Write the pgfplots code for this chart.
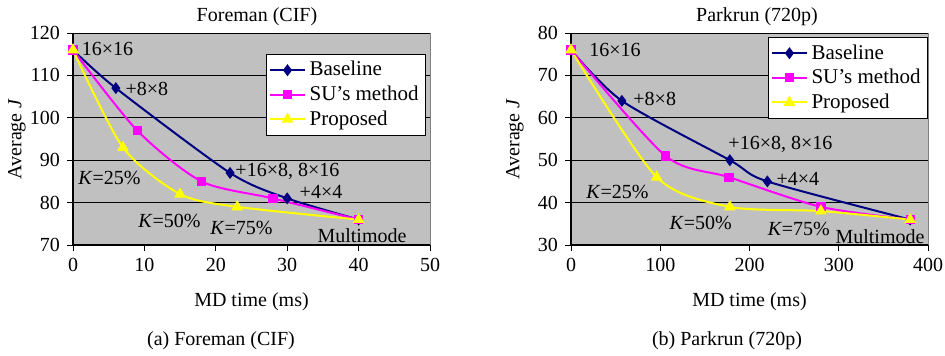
\documentclass[border=0pt]{standalone}
\usepackage{pgfplots}
\pgfplotsset{compat=1.18}
\usepackage{fontspec}
\setmainfont{Liberation Serif}
\definecolor{silver}{RGB}{192,192,192}
\definecolor{navyb}{RGB}{0,0,128}
\definecolor{mag}{RGB}{255,0,255}
\definecolor{yel}{RGB}{255,255,0}
\pgfplotsset{
  myax/.style={
    scale only axis, width=178.5pt, height=106pt,
    axis x line*=bottom, axis y line*=left,
    x axis line style={-}, y axis line style={-},
    axis line style={black, line width=0.6pt},
    axis background/.style={fill=silver, draw=gray},
    ymajorgrids, grid style={black, line width=0.5pt},
    tick align=outside, tick style={black, line width=0.5pt}, major tick length=3pt,
    tick label style={font=\fontsize{10}{12}\selectfont},
    /pgf/number format/assume math mode=true,
    clip=false,
    xlabel style={at={(axis description cs:0.5,-0.269)}, anchor=center, font=\fontsize{10}{12}\selectfont},
    ylabel style={at={(axis description cs:-0.157,0.5)}, anchor=center, font=\fontsize{10}{12}\selectfont},
    xlabel={MD time (ms)}, ylabel={Average \textit{J}},
    legend style={font=\fontsize{10.5}{12}\selectfont, draw=black, fill=white, inner sep=1.5pt, row sep=-0.5pt, cells={anchor=west}},
    every node/.append style={font=\fontsize{10}{12}\selectfont},
  },
  bl/.style={navyb, line width=1pt, smooth, tension=0.45, mark=diamond*, mark size=2.2pt, mark options={fill=navyb}},
  su/.style={mag, line width=1pt, smooth, tension=0.45, mark=square*, mark size=1.8pt, mark options={fill=mag}},
  pr/.style={yel, line width=1pt, smooth, tension=0.45, mark=triangle*, mark size=2.4pt, mark options={fill=yel}},
}
\begin{document}
\begin{tikzpicture}
\useasboundingbox (0,0) rectangle (472.5pt,-177.5pt);
\begin{axis}[myax, at={(36.5pt,-122.5pt)}, anchor=south west,
  xmin=0, xmax=50, ymin=70, ymax=120,
  xtick={0,10,...,50}, ytick={70,80,...,120},
  legend style={at={(axis description cs:0.989,0.901)}, anchor=north east}]
\addplot[bl] coordinates {(0,116) (6,107) (22,87) (30,81) (40,76)};
\addplot[su] coordinates {(0,116) (9,97) (18,85) (28,81) (40,76)};
\addplot[pr] coordinates {(0,116) (7,93) (15,82) (23,79) (40,76)};
\legend{Baseline, SU's method, Proposed}
\node[anchor=west, inner sep=0pt] at (axis cs:1.2,116.3) {16×16};
\node[anchor=west, inner sep=0pt] at (axis cs:7.3,106.9) {+8×8};
\node[anchor=west, inner sep=0pt] at (axis cs:22.7,87.3) {+16×8, 8×16};
\node[anchor=west, inner sep=0pt] at (axis cs:31.7,82.5) {+4×4};
\node[anchor=west, inner sep=0pt] at (axis cs:0.7,85.8) {\textit{K}=25\%};
\node[anchor=west, inner sep=0pt] at (axis cs:9.1,75.7) {\textit{K}=50\%};
\node[anchor=west, inner sep=0pt] at (axis cs:19.2,74.1) {\textit{K}=75\%};
\node[anchor=west, inner sep=0pt] at (axis cs:34.2,72.2) {Multimode};
\end{axis}
\begin{axis}[myax, at={(285.5pt,-122.5pt)}, anchor=south west,
  xmin=0, xmax=400, ymin=30, ymax=80,
  xtick={0,100,...,400}, ytick={30,40,...,80},
  legend style={at={(axis description cs:1.0,0.981)}, anchor=north east}]
\addplot[bl] coordinates {(0,76) (57,64) (178,50) (220,45) (380,36)};
\addplot[su] coordinates {(0,76) (106,51) (177,46) (280,39) (380,36)};
\addplot[pr] coordinates {(0,76) (96,46) (178,39) (280,38) (380,36)};
\legend{Baseline, SU's method, Proposed}
\node[anchor=west, inner sep=0pt] at (axis cs:20,76) {16×16};
\node[anchor=west, inner sep=0pt] at (axis cs:69.5,64.4) {+8×8};
\node[anchor=west, inner sep=0pt] at (axis cs:176,53.7) {+16×8, 8×16};
\node[anchor=west, inner sep=0pt] at (axis cs:230,45.6) {+4×4};
\node[anchor=west, inner sep=0pt] at (axis cs:16.8,42.6) {\textit{K}=25\%};
\node[anchor=west, inner sep=0pt] at (axis cs:110,35.2) {\textit{K}=50\%};
\node[anchor=west, inner sep=0pt] at (axis cs:220,33.8) {\textit{K}=75\%};
\node[anchor=west, inner sep=0pt] at (axis cs:296,31.9) {Multimode};
\end{axis}
\node[font=\fontsize{10}{12}\selectfont] at (128.5pt,-8.5pt) {Foreman (CIF)};
\node[font=\fontsize{10}{12}\selectfont] at (378.5pt,-8.5pt) {Parkrun (720p)};
\node[font=\fontsize{10}{12}\selectfont] at (110.5pt,-170.5pt) {(a) Foreman (CIF)};
\node[font=\fontsize{10}{12}\selectfont] at (363.5pt,-170.5pt) {(b) Parkrun (720p)};
\end{tikzpicture}
\end{document}
